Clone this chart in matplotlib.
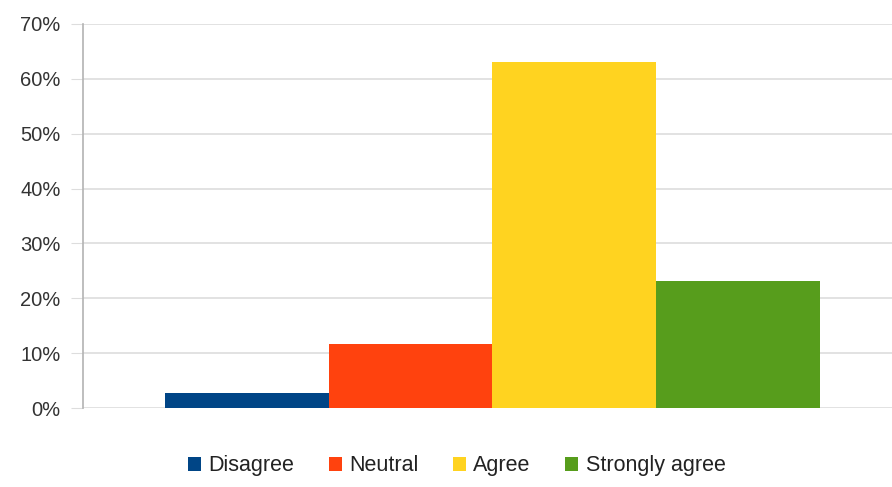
import matplotlib
matplotlib.use('Agg')
import matplotlib.pyplot as plt
from matplotlib.ticker import PercentFormatter

# Survey responses (share of respondents, %)
categories = ['Disagree', 'Neutral', 'Agree', 'Strongly agree']
values = [2.7, 11.6, 63.0, 23.1]
colors = ['#004586', '#ff420e', '#ffd320', '#579d1c']
yticks = [0, 10, 20, 30, 40, 50, 60, 70]

plt.rcParams['font.family'] = ['Liberation Sans', 'DejaVu Sans']

fig = plt.figure(figsize=(8.92, 4.87), dpi=100)
ax = fig.add_axes([0.093, 0.162, 0.907, 0.789])

for i, (cat, val, col) in enumerate(zip(categories, values, colors)):
    ax.bar(i, val, width=1.0, color=col, label=cat, zorder=3)

ax.set_xlim(-1.0, 3.94)
ax.set_ylim(0, 70)
ax.set_yticks(yticks)
ax.yaxis.set_major_formatter(PercentFormatter(decimals=0))
ax.set_xticks([])
ax.grid(axis='y', color='#dddddd', linewidth=1.2, zorder=0)
for side in ['top', 'right', 'bottom']:
    ax.spines[side].set_visible(False)
ax.spines['left'].set_color('#b3b3b3')
ax.spines['left'].set_linewidth(1.2)
ax.tick_params(axis='y', length=9, color='#dddddd', labelsize=14.5,
               labelcolor='#333333', pad=7)

fig.legend(loc='lower center', bbox_to_anchor=(0.512, -0.018), ncol=4,
           frameon=False, fontsize=15.5, handlelength=0.6, handleheight=0.6,
           handletextpad=0.35, columnspacing=1.6, labelcolor='#222222')

fig.savefig('out.png', dpi=100)
